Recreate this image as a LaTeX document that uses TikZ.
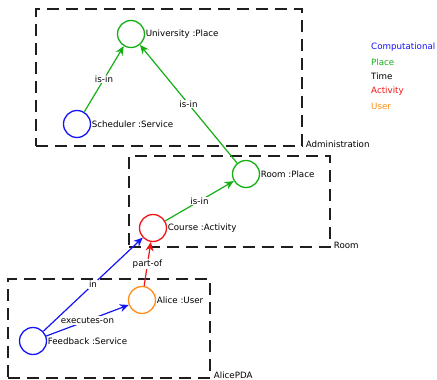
\documentclass[tikz,border=0pt]{standalone}
\usepackage{fontspec}
\setmainfont{DejaVu Sans}
\usetikzlibrary{arrows.meta,calc}
\definecolor{cblue}{RGB}{20,20,245}
\definecolor{cgreen}{RGB}{20,175,20}
\definecolor{cred}{RGB}{240,20,20}
\definecolor{corange}{RGB}{255,140,20}
\definecolor{cdash}{RGB}{30,30,30}
\begin{document}
\begin{tikzpicture}[x=1pt,y=-1pt,
  font=\fontsize{8.7}{10}\selectfont,
  zone/.style={draw=cdash, line width=1.4pt, dash pattern=on 12pt off 7pt, inner sep=0pt},
  zonelabel/.style={anchor=base west, inner sep=0pt},
  entity/.style={circle, draw=#1, line width=1.3pt, minimum size=27pt, inner sep=0pt},
  rel/.style={draw=#1, line width=1.2pt, -{Stealth[length=9pt,width=8pt]}},
  rellabel/.style={fill=white, inner sep=1pt, midway},
  tag/.style={anchor=west, inner sep=0pt, xshift=0.5pt}]
\useasboundingbox (0,0) rectangle (437,380);

% grouping boxes
\node[zone, minimum width=266pt, minimum height=137pt] (admin) at (169,77.5) {};
\node[zonelabel] (adminlbl) at ($(admin.south east)+(3,1)$) {Administration};
\node[zone, minimum width=201pt, minimum height=91pt] (roomzone) at (229.5,201.5) {};
\node[zonelabel] (roomlbl) at ($(roomzone.south east)+(3,1)$) {Room};
\node[zone, minimum width=202pt, minimum height=99pt] (pda) at (109,328.5) {};
\node[zonelabel] (pdalbl) at ($(pda.south east)+(3,0)$) {AlicePDA};

% entities
\node[entity=cgreen] (univ) at (131,34) {};
\node[tag] at (univ.east) {University :Place};
\node[entity=cblue] (sched) at (77,124) {};
\node[tag] at (sched.east) {Scheduler :Service};
\node[entity=cgreen] (room) at (246,174) {};
\node[tag] at (room.east) {Room :Place};
\node[entity=cred] (course) at (153,228) {};
\node[tag] at (course.east) {Course :Activity};
\node[entity=corange] (alice) at (142,300) {};
\node[tag] at (alice.east) {Alice :User};
\node[entity=cblue] (feed) at (33,341) {};
\node[tag] at (feed.east) {Feedback :Service};

% relations
\draw[rel=cgreen] (sched) -- node[rellabel] {is-in} (univ);
\draw[rel=cgreen] (room) -- node[rellabel] {is-in} (univ);
\draw[rel=cgreen] (course) -- node[rellabel] {is-in} (room);
\draw[rel=cred] (alice) -- node[rellabel] {part-of} (course);
\draw[rel=cblue] (feed) -- node[rellabel] {in} (course);
\draw[rel=cblue] (feed) -- node[rellabel] {executes-on} (alice);

% legend
\node[anchor=west, inner sep=0pt, text=cblue] (lgcomp) at (371,47) {Computational};
\node[anchor=west, inner sep=0pt, text=cgreen] (lgplace) at (371,62) {Place};
\node[anchor=west, inner sep=0pt, text=black] (lgtime) at (371,76) {Time};
\node[anchor=west, inner sep=0pt, text=cred] (lgact) at (371,91) {Activity};
\node[anchor=west, inner sep=0pt, text=corange] (lguser) at (371,106) {User};
\end{tikzpicture}
\end{document}
